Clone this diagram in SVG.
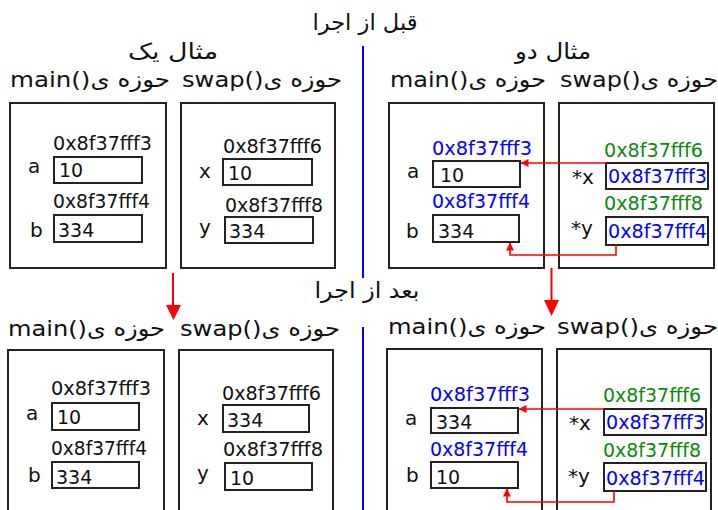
<svg xmlns="http://www.w3.org/2000/svg" width="718" height="510" viewBox="0 0 718 510">
<style>
text{font-family:"DejaVu Sans","Noto Sans",sans-serif;fill:#111}
.t{font-size:22px}
.h{font-size:22px}
.hex{font-size:19px}
.v{font-size:19px}
.l{font-size:20px}
.blue{fill:#0000ff}
.green{fill:#0b8a0b}
.box{fill:#fff;stroke:#222;stroke-width:2}
.cell{fill:#fff;stroke:#222;stroke-width:2}
.red{fill:none;stroke:#ff0000;stroke-width:1.6}
</style>
<defs>
<marker id="ah" viewBox="0 0 8 8" refX="7.5" refY="4" markerWidth="8" markerHeight="8" markerUnits="userSpaceOnUse" orient="auto">
<path d="M0,0 L8,4 L0,8 z" fill="#ff0000"/>
</marker>
</defs>
<rect width="718" height="510" fill="#fff"/>

<g id="titles">
<text class="t" x="365" y="30" text-anchor="middle" textLength="105" lengthAdjust="spacingAndGlyphs">قبل از اجرا</text>
<text class="t" x="173" y="59" text-anchor="middle" textLength="90" lengthAdjust="spacingAndGlyphs">مثال یک</text>
<text class="t" x="553" y="59" text-anchor="middle" textLength="76" lengthAdjust="spacingAndGlyphs">مثال دو</text>
<text class="t" x="367" y="298" text-anchor="middle" textLength="105" lengthAdjust="spacingAndGlyphs">بعد از اجرا</text>
</g>

<g id="divider">
<line x1="363" y1="46" x2="363" y2="278" stroke="#0000ff" stroke-width="2"/>
<line x1="363" y1="327" x2="363" y2="510" stroke="#0000ff" stroke-width="2"/>
</g>

<!-- Example 1, before -->
<g id="ex1-before-main">
<text class="h" x="10" y="87" textLength="160" lengthAdjust="spacingAndGlyphs">main()حوزه ی</text>
<rect class="box" x="10" y="103" width="156" height="165"/>
<text class="hex" x="53" y="150" textLength="99" lengthAdjust="spacingAndGlyphs">0x8f37fff3</text>
<text class="l" x="28" y="173">a</text>
<rect class="cell" x="54" y="157" width="88" height="26"/>
<text class="v" x="59" y="177">10</text>
<text class="hex" x="53" y="208" textLength="97" lengthAdjust="spacingAndGlyphs">0x8f37fff4</text>
<text class="l" x="30" y="237">b</text>
<rect class="cell" x="54" y="215" width="88" height="27"/>
<text class="v" x="58" y="237">334</text>
</g>
<g id="ex1-before-swap">
<text class="h" x="182" y="87" textLength="160" lengthAdjust="spacingAndGlyphs">swap()حوزه ی</text>
<rect class="box" x="181" y="103" width="154" height="165"/>
<text class="hex" x="223" y="153" textLength="99" lengthAdjust="spacingAndGlyphs">0x8f37fff6</text>
<text class="l" x="199" y="178">x</text>
<rect class="cell" x="223" y="159" width="89" height="26"/>
<text class="v" x="228" y="180">10</text>
<text class="hex" x="225" y="212" textLength="98" lengthAdjust="spacingAndGlyphs">0x8f37fff8</text>
<text class="l" x="199" y="234">y</text>
<rect class="cell" x="225" y="217" width="88" height="26"/>
<text class="v" x="229" y="238">334</text>
</g>

<!-- Example 2, before -->
<g id="ex2-before-main">
<text class="h" x="390" y="87" textLength="156" lengthAdjust="spacingAndGlyphs">main()حوزه ی</text>
<rect class="box" x="389" y="103" width="155" height="165"/>
<text class="hex blue" x="432" y="155" textLength="100" lengthAdjust="spacingAndGlyphs">0x8f37fff3</text>
<text class="l" x="407" y="178">a</text>
<rect class="cell" x="433" y="161" width="87" height="26"/>
<text class="v" x="440" y="182">10</text>
<text class="hex blue" x="432" y="208" textLength="98" lengthAdjust="spacingAndGlyphs">0x8f37fff4</text>
<text class="l" x="406" y="238">b</text>
<rect class="cell" x="433" y="215" width="86" height="27"/>
<text class="v" x="438" y="238">334</text>
</g>
<g id="ex2-before-swap">
<text class="h" x="560" y="87" textLength="158" lengthAdjust="spacingAndGlyphs">swap()حوزه ی</text>
<rect class="box" x="559" y="103" width="155" height="165"/>
<text class="hex green" x="604" y="157" textLength="99" lengthAdjust="spacingAndGlyphs">0x8f37fff6</text>
<text class="l" x="572" y="184">*x</text>
<rect class="cell" x="606" y="163" width="102" height="26"/>
<text class="hex blue" x="608" y="183" textLength="99" lengthAdjust="spacingAndGlyphs">0x8f37fff3</text>
<text class="hex green" x="604" y="210" textLength="99" lengthAdjust="spacingAndGlyphs">0x8f37fff8</text>
<text class="l" x="571" y="235">*y</text>
<rect class="cell" x="606" y="217" width="102" height="28"/>
<text class="hex blue" x="608" y="238" textLength="99" lengthAdjust="spacingAndGlyphs">0x8f37fff4</text>
</g>

<!-- Example 1, after -->
<g id="ex1-after-main">
<text class="h" x="8" y="336" textLength="157" lengthAdjust="spacingAndGlyphs">main()حوزه ی</text>
<rect class="box" x="8" y="350" width="156" height="170"/>
<text class="hex" x="51" y="395" textLength="100" lengthAdjust="spacingAndGlyphs">0x8f37fff3</text>
<text class="l" x="26" y="420">a</text>
<rect class="cell" x="52" y="403" width="87" height="27"/>
<text class="v" x="57" y="424">10</text>
<text class="hex" x="51" y="455" textLength="96" lengthAdjust="spacingAndGlyphs">0x8f37fff4</text>
<text class="l" x="28" y="482">b</text>
<rect class="cell" x="52" y="462" width="87" height="26"/>
<text class="v" x="56" y="484">334</text>
</g>
<g id="ex1-after-swap">
<text class="h" x="180" y="336" textLength="160" lengthAdjust="spacingAndGlyphs">swap()حوزه ی</text>
<rect class="box" x="179" y="350" width="154" height="170"/>
<text class="hex" x="222" y="400" textLength="99" lengthAdjust="spacingAndGlyphs">0x8f37fff6</text>
<text class="l" x="197" y="425">x</text>
<rect class="cell" x="223" y="405" width="86" height="27"/>
<text class="v" x="227" y="427">334</text>
<text class="hex" x="223" y="456" textLength="100" lengthAdjust="spacingAndGlyphs">0x8f37fff8</text>
<text class="l" x="197" y="480">y</text>
<rect class="cell" x="225" y="463" width="87" height="27"/>
<text class="v" x="230" y="485">10</text>
</g>

<!-- Example 2, after -->
<g id="ex2-after-main">
<text class="h" x="388" y="334" textLength="158" lengthAdjust="spacingAndGlyphs">main()حوزه ی</text>
<rect class="box" x="387" y="349" width="155" height="170"/>
<text class="hex blue" x="430" y="401" textLength="100" lengthAdjust="spacingAndGlyphs">0x8f37fff3</text>
<text class="l" x="405" y="425">a</text>
<rect class="cell" x="431" y="408" width="87" height="25"/>
<text class="v" x="436" y="429">334</text>
<text class="hex blue" x="430" y="456" textLength="98" lengthAdjust="spacingAndGlyphs">0x8f37fff4</text>
<text class="l" x="406" y="482">b</text>
<rect class="cell" x="431" y="462" width="87" height="26"/>
<text class="v" x="436" y="484">10</text>
</g>
<g id="ex2-after-swap">
<text class="h" x="557" y="334" textLength="161" lengthAdjust="spacingAndGlyphs">swap()حوزه ی</text>
<rect class="box" x="557" y="349" width="154" height="170"/>
<text class="hex green" x="603" y="402" textLength="98" lengthAdjust="spacingAndGlyphs">0x8f37fff6</text>
<text class="l" x="569" y="430">*x</text>
<rect class="cell" x="604" y="409" width="102" height="26"/>
<text class="hex blue" x="606" y="429" textLength="99" lengthAdjust="spacingAndGlyphs">0x8f37fff3</text>
<text class="hex green" x="603" y="457" textLength="98" lengthAdjust="spacingAndGlyphs">0x8f37fff8</text>
<text class="l" x="568" y="483">*y</text>
<rect class="cell" x="604" y="463" width="102" height="28"/>
<text class="hex blue" x="606" y="485" textLength="99" lengthAdjust="spacingAndGlyphs">0x8f37fff4</text>
</g>

<g id="connectors">
<line class="red" x1="606" y1="163" x2="521" y2="163" marker-end="url(#ah)"/>
<polyline class="red" points="616,245 616,255 510,255 510,243" marker-end="url(#ah)"/>
<line class="red" x1="604" y1="409" x2="519" y2="409" marker-end="url(#ah)"/>
<polyline class="red" points="614,491 614,502 507,502 507,489" marker-end="url(#ah)"/>
<line x1="173" y1="273" x2="173" y2="307" stroke="#ff0000" stroke-width="2"/>
<path d="M166,305 L181,305 L173.5,320 z" fill="#ff0000"/>
<line x1="551.5" y1="268" x2="551.5" y2="302" stroke="#ff0000" stroke-width="2"/>
<path d="M544,300 L559,300 L551.5,316 z" fill="#ff0000"/>
</g>
</svg>
